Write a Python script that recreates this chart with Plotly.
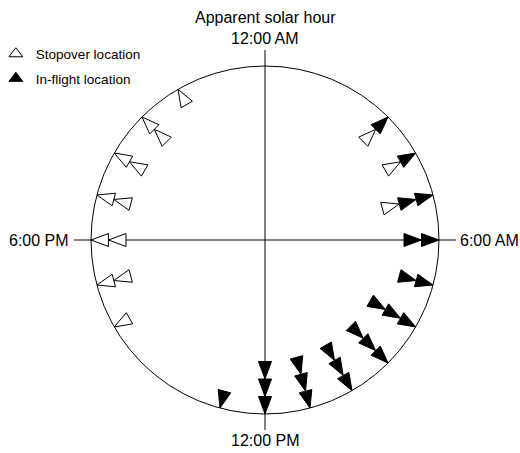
import math
import plotly.graph_objects as go

# ---- data (apparent solar hour of each observation, and how many at that hour) ----
hours_inflight = [3, 4, 5, 6, 7, 8, 9, 10, 11, 12, 13]
count_inflight = [1, 1, 2, 2, 2, 3, 3, 3, 3, 3, 1]
hours_stopover = [3, 4, 5, 16, 17, 18, 19, 20, 21, 22]
count_stopover = [1, 1, 1, 1, 2, 2, 2, 2, 2, 1]

series_names = ["Stopover location", "In-flight location"]
hour_label_text = ["12:00 AM", "6:00 AM", "12:00 PM", "6:00 PM"]
axis_title = "Apparent solar hour"

# ---- styling constants (plot units == screen pixels) ----
R = 174.0      # radius of the clock circle
L = 17.5       # length of one triangle (stack step)
W = 6.5        # half-width of one triangle base
FONT = "Liberation Sans, Arial, Helvetica, sans-serif"


def stacked_triangles(hours, counts, start_offsets):
    xs, ys = [], []
    for h, n in zip(hours, counts):
        th = math.radians(h * 15.0)          # clockwise from top (12:00 AM)
        ux, uy = math.sin(th), math.cos(th)  # outward unit vector
        px, py = uy, -ux                     # perpendicular
        k0 = start_offsets.get(h, 0)
        for k in range(k0, k0 + n):
            rt = R - k * L
            rb = rt - L
            xs += [rt * ux, rb * ux + W * px, rb * ux - W * px, rt * ux, None]
            ys += [rt * uy, rb * uy + W * py, rb * uy - W * py, rt * uy, None]
    return xs, ys


# in-flight triangles sit on the circle, stopover triangles stack inside them
inflight_x, inflight_y = stacked_triangles(hours_inflight, count_inflight, {})
stop_offsets = dict(zip(hours_inflight, count_inflight))
stop_x, stop_y = stacked_triangles(hours_stopover, count_stopover, stop_offsets)

fig = go.Figure()

fig.add_trace(go.Scatter(
    x=stop_x, y=stop_y, mode="lines", fill="toself",
    fillcolor="white", line=dict(color="black", width=1),
    showlegend=False, hoverinfo="skip"))
fig.add_trace(go.Scatter(
    x=inflight_x, y=inflight_y, mode="lines", fill="toself",
    fillcolor="black", line=dict(color="black", width=1),
    showlegend=False, hoverinfo="skip"))

# legend entries
fig.add_trace(go.Scatter(
    x=[None], y=[None], mode="markers", name=series_names[0], legendgroup="a",
    marker=dict(symbol="triangle-up", size=12, color="white",
                line=dict(color="black", width=1))))
fig.add_trace(go.Scatter(
    x=[None], y=[None], mode="markers", name=series_names[1], legendgroup="b",
    marker=dict(symbol="triangle-up", size=12, color="black",
                line=dict(color="black", width=1))))

AX = 191.0
shapes = [
    dict(type="circle", x0=-R, y0=-R, x1=R, y1=R,
         line=dict(color="black", width=1), layer="below"),
    dict(type="line", x0=-AX, y0=0, x1=AX, y1=0,
         line=dict(color="black", width=1), layer="below"),
    dict(type="line", x0=0, y0=-AX + 1, x1=0, y1=AX - 1,
         line=dict(color="black", width=1), layer="below"),
]

tf = dict(family=FONT, size=16, color="black")
annotations = [
    dict(x=0, y=223, text=axis_title, showarrow=False, font=tf,
         xanchor="center", yanchor="middle"),
    dict(x=0, y=202, text=hour_label_text[0], showarrow=False, font=tf,
         xanchor="center", yanchor="middle"),
    dict(x=193, y=0, text=hour_label_text[1], showarrow=False, font=tf,
         xanchor="left", yanchor="middle"),
    dict(x=0, y=-200, text=hour_label_text[2], showarrow=False, font=tf,
         xanchor="center", yanchor="middle"),
    dict(x=-194, y=0, text=hour_label_text[3], showarrow=False, font=tf,
         xanchor="right", yanchor="middle"),
]

fig.update_layout(
    width=520, height=453, autosize=False,
    margin=dict(l=0, r=0, t=0, b=0, pad=0, autoexpand=False),
    paper_bgcolor="white", plot_bgcolor="white",
    xaxis=dict(range=[-265, 255], visible=False, fixedrange=True),
    yaxis=dict(range=[-213, 240], visible=False, fixedrange=True),
    shapes=shapes, annotations=annotations,
    showlegend=True,
    legend=dict(x=-0.008, y=0.915, xanchor="left", yanchor="top",
                bgcolor="rgba(0,0,0,0)", traceorder="grouped",
                tracegroupgap=4, itemsizing="trace",
                font=dict(family=FONT, size=13.5, color="black")),
)

fig.write_html(
    "out.html",
    config={"displayModeBar": False, "staticPlot": True},
    post_script="document.body.style.margin='0';"
                "document.body.style.overflow='hidden';",
)
